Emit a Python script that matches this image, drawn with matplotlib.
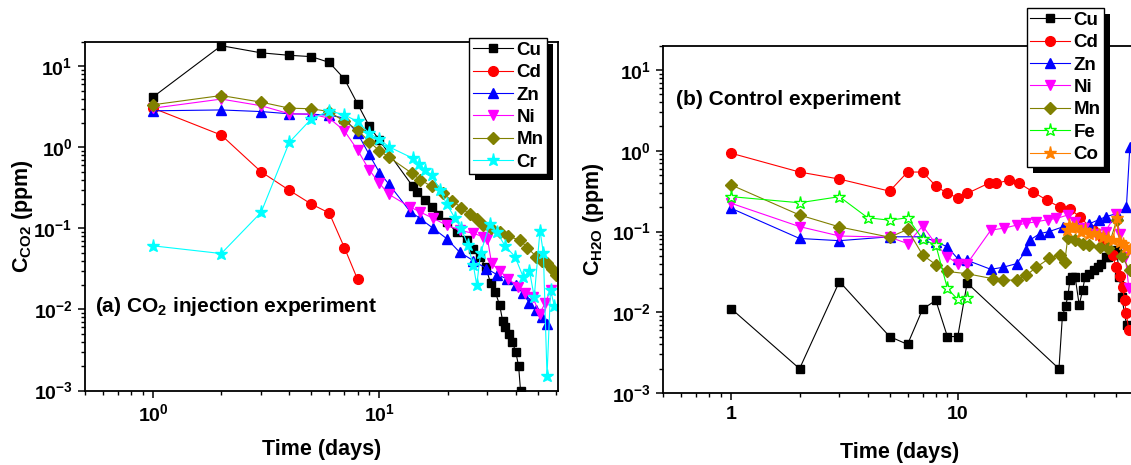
import numpy as np
import matplotlib
matplotlib.use('Agg')
import matplotlib.pyplot as plt
from matplotlib import ticker
from matplotlib.patches import Rectangle
from matplotlib.transforms import IdentityTransform

plt.rcParams['font.family'] = ['Liberation Sans', 'DejaVu Sans']
plt.rcParams['font.weight'] = 'bold'
plt.rcParams['axes.labelweight'] = 'bold'
plt.rcParams['mathtext.default'] = 'regular'

# ---- (a) CO2 injection experiment ----
a_cu_x = [1, 2, 3, 4, 5, 6, 7, 8, 9, 10, 14, 14.6, 15.9, 17.1, 18.2, 19.8, 21.9, 24.3, 26, 27.8,
          29.5, 31, 32.5, 34, 35, 36, 37.2, 38.6, 40, 41.2, 42]
a_cu_y = [4.2, 18, 14.7, 13.7, 13.2, 11.2, 7.0, 3.45, 1.85, 1.22, 0.334, 0.284, 0.224, 0.185, 0.146, 0.12,
          0.091, 0.072, 0.0565, 0.045, 0.033, 0.021, 0.0164, 0.0112, 0.0073, 0.006, 0.005, 0.004, 0.003,
          0.002, 0.001]
a_cd_x = [1, 2, 3, 4, 5, 6, 7, 8]
a_cd_y = [3.05, 1.42, 0.50, 0.295, 0.20, 0.155, 0.058, 0.0236]
a_zn_x = [1, 2, 3, 4, 5, 6, 7, 8, 9, 10, 11, 13.6, 15.1, 17.3, 19.8, 22.6, 26, 29.7, 33, 36.5, 40, 43,
          46, 49, 52, 55]
a_zn_y = [2.83, 2.9, 2.77, 2.6, 2.57, 2.5, 2.3, 1.5, 0.82, 0.49, 0.353, 0.164, 0.133, 0.1, 0.075, 0.051,
          0.04, 0.032, 0.027, 0.024, 0.02, 0.016, 0.012, 0.0098, 0.008, 0.0067]
a_ni_x = [1, 2, 3, 4, 5, 6, 7, 8, 9, 10, 11, 13.6, 15.1, 17.3, 19.8, 22.6, 26, 28.7, 30, 31.3, 34, 37,
          40.9, 44, 47.5, 51, 54, 57]
a_ni_y = [3.05, 3.95, 3.27, 2.6, 2.57, 2.3, 1.6, 0.93, 0.53, 0.36, 0.264, 0.185, 0.16, 0.133, 0.11, 0.095,
          0.087, 0.079, 0.075, 0.037, 0.03, 0.024, 0.019, 0.016, 0.0143, 0.0089, 0.012, 0.0173]
a_mn_x = [1, 2, 3, 4, 5, 6, 7, 8, 9, 10, 11, 13.9, 15.1, 17, 19, 21, 23, 25, 27, 28.7, 31, 34, 37, 41.7,
          45, 49.3, 52, 54.8, 58, 60.5]
a_mn_y = [3.36, 4.37, 3.62, 3.05, 3.0, 2.77, 2.09, 1.65, 1.18, 0.91, 0.76, 0.48, 0.4, 0.33, 0.27, 0.22,
          0.18, 0.15, 0.13, 0.11, 0.1, 0.09, 0.08, 0.072, 0.058, 0.045, 0.04, 0.037, 0.032, 0.0264]
a_cr_x = [1, 2, 3, 4, 5, 6, 7, 8, 9, 10, 11, 14.1, 15, 15.9, 17, 18.5, 19.8, 21.6, 23, 24.6, 26, 26.9,
          28, 30.8, 33, 36, 39.7, 43.2, 46, 48.3, 51.2, 53, 55, 57, 59.3]
a_cr_y = [0.061, 0.049, 0.158, 1.16, 2.25, 2.83, 2.52, 2.09, 1.5, 1.26, 1.02, 0.73, 0.625, 0.53, 0.457,
          0.3, 0.2, 0.133, 0.1, 0.062, 0.035, 0.02, 0.05, 0.115, 0.09, 0.06, 0.045, 0.025, 0.03, 0.0143,
          0.094, 0.05, 0.0015, 0.0173, 0.011]

# ---- (b) Control experiment ----
b_cu_x = [1, 2, 3, 5, 6, 7, 8, 9, 10, 11, 28, 29, 30, 30.7, 31.3, 32, 33, 34.4, 35.6, 36.5, 38.1, 40,
          41.5, 43, 45, 46.3, 48.8, 50.4, 51.8, 53, 55.7]
b_cu_y = [0.011, 0.002, 0.024, 0.005, 0.004, 0.011, 0.014, 0.005, 0.005, 0.023, 0.002, 0.009, 0.0121,
          0.0163, 0.025, 0.0275, 0.0275, 0.0123, 0.0187, 0.027, 0.03, 0.033, 0.0366, 0.04, 0.0487, 0.0487,
          0.053, 0.0587, 0.0275, 0.0156, 0.007]
b_cd_x = [1, 2, 3, 5, 6, 7, 8, 9, 10, 11, 13.8, 14.8, 16.9, 18.7, 21.5, 24.7, 28.3, 31.3, 34.6, 39.6,
          44, 48.3, 50, 52, 53.5, 54.6, 55.5, 57]
b_cd_y = [0.93, 0.545, 0.446, 0.316, 0.545, 0.545, 0.366, 0.296, 0.262, 0.296, 0.40, 0.395, 0.433, 0.395,
          0.31, 0.245, 0.2, 0.19, 0.152, 0.104, 0.08, 0.051, 0.0365, 0.028, 0.0207, 0.0142, 0.0097, 0.006]
b_zn_x = [1, 2, 3, 5, 7, 8, 9, 10, 11, 14, 15.8, 18.2, 20.1, 20.8, 23, 25.4, 29.1, 33.4, 38.2, 42, 45,
          50.4, 55.6, 57.6]
b_zn_y = [0.193, 0.082, 0.077, 0.086, 0.086, 0.075, 0.0645, 0.046, 0.044, 0.034, 0.036, 0.04, 0.0586,
          0.078, 0.094, 0.1, 0.114, 0.12, 0.125, 0.14, 0.152, 0.167, 0.2, 1.12]
b_ni_x = [1, 2, 3, 5, 6, 7, 8, 9, 10, 11, 14, 16, 18.2, 20, 22.2, 25, 27.3, 30.6, 33, 36, 40.9, 45, 50,
          52, 55, 57]
b_ni_y = [0.223, 0.115, 0.088, 0.085, 0.071, 0.117, 0.07, 0.0487, 0.04, 0.04, 0.104, 0.11, 0.12, 0.126,
          0.132, 0.14, 0.145, 0.16, 0.13, 0.11, 0.094, 0.1, 0.167, 0.094, 0.0487, 0.02]
b_mn_x = [1, 2, 3, 5, 6, 7, 8, 9, 11, 14.3, 15.8, 18.2, 20.1, 22.2, 25.4, 28.2, 29.7, 30.6, 33, 35.6,
          38, 42.3, 46, 50.4, 53, 57.6]
b_mn_y = [0.376, 0.16, 0.114, 0.085, 0.106, 0.051, 0.039, 0.032, 0.03, 0.026, 0.025, 0.025, 0.0287,
          0.036, 0.0465, 0.051, 0.042, 0.082, 0.078, 0.071, 0.068, 0.065, 0.062, 0.138, 0.05, 0.033]
b_fe_x = [1, 2, 3, 4, 5, 6, 7, 8, 9, 10, 11]
b_fe_y = [0.27, 0.227, 0.27, 0.148, 0.138, 0.148, 0.08, 0.068, 0.0197, 0.0144, 0.015]
b_co_x = [30.3, 31, 32, 33.4, 35, 36.5, 38.2, 40, 42, 43.9, 46, 48.5, 50.4, 52, 53.5, 55.5, 57.6]
b_co_y = [0.104, 0.12, 0.11, 0.115, 0.1, 0.105, 0.094, 0.095, 0.09, 0.0865, 0.082, 0.0787, 0.145, 0.075,
          0.071, 0.065, 0.059]

styles = {
    'Cu': dict(color='black', marker='s', ms=5.5),
    'Cd': dict(color='#ff0000', marker='o', ms=7),
    'Zn': dict(color='#0000ff', marker='^', ms=7.5),
    'Ni': dict(color='#ff00ff', marker='v', ms=7.5),
    'Mn': dict(color='#808000', marker='D', ms=6),
    'Cr': dict(color='#00ffff', marker='*', ms=9.5),
    'Fe': dict(color='#00ff00', marker='*', ms=9.5, mfc='white'),
    'Co': dict(color='#ff8000', marker='*', ms=9.5),
}

W, H = 1131, 465
fig = plt.figure(figsize=(W / 100, H / 100), dpi=100)
axA = fig.add_axes([85 / W, 1 - 390.5 / H, 473 / W, 348.5 / H])
axB = fig.add_axes([663.3 / W, 1 - 393 / H, 473 / W, 347.3 / H])


def draw(ax, name, x, y):
    st = dict(styles[name])
    ax.plot(x, y, lw=0.8, label=name, mec=st['color'], **st)


for name, x, y in [('Cu', a_cu_x, a_cu_y), ('Cd', a_cd_x, a_cd_y), ('Zn', a_zn_x, a_zn_y),
                   ('Ni', a_ni_x, a_ni_y), ('Mn', a_mn_x, a_mn_y), ('Cr', a_cr_x, a_cr_y)]:
    draw(axA, name, x, y)

for name, x, y in [('Cu', b_cu_x, b_cu_y), ('Cd', b_cd_x, b_cd_y), ('Zn', b_zn_x, b_zn_y),
                   ('Ni', b_ni_x, b_ni_y), ('Mn', b_mn_x, b_mn_y), ('Fe', b_fe_x, b_fe_y),
                   ('Co', b_co_x, b_co_y)]:
    draw(axB, name, x, y)

for ax in (axA, axB):
    ax.set_xscale('log')
    ax.set_yscale('log')
    ax.set_xlim(0.5, 61.5)
    ax.set_ylim(1e-3, 20)
    for s in ax.spines.values():
        s.set_linewidth(1.3)
    ax.tick_params(which='major', direction='out', length=5, width=1.1, labelsize=14, pad=4)
    ax.tick_params(which='minor', direction='out', length=3, width=1)
    ax.yaxis.set_major_locator(ticker.LogLocator(base=10, numticks=10))
    ax.yaxis.set_minor_locator(ticker.LogLocator(base=10, subs=np.arange(2, 10), numticks=10))
    ax.yaxis.set_minor_formatter(ticker.NullFormatter())
    ax.xaxis.set_minor_formatter(ticker.NullFormatter())
    ax.set_xlabel('Time (days)', fontsize=15.5)
    ax.xaxis.set_label_coords(0.5, -0.14)

axB.xaxis.set_major_formatter(ticker.FuncFormatter(lambda v, p: f'{v:g}'))

axA.set_ylabel('C$_{CO2}$ (ppm)', fontsize=15.5)
axA.yaxis.set_label_coords(-0.105, 0.5)
axB.set_ylabel('C$_{H2O}$ (ppm)', fontsize=15.5)
axB.yaxis.set_label_coords(-0.121, 0.5)

axA.text(0.022, 0.24, '(a) CO$_2$ injection experiment', transform=axA.transAxes,
         fontsize=15, va='center', ha='left')
axB.text(0.027, 0.844, '(b) Control experiment', transform=axB.transAxes,
         fontsize=15, va='center', ha='left')

leg_kw = dict(loc='upper right', borderaxespad=0, fontsize=13.5, handlelength=2.1,
              handletextpad=0.2, labelspacing=0.28, borderpad=0.2, fancybox=False,
              edgecolor='black', framealpha=1)
legA = axA.legend(bbox_to_anchor=(0.977, 1.0115), **leg_kw)
legB = axB.legend(bbox_to_anchor=(0.932, 1.1085), **leg_kw)

fig.canvas.draw()
for ax, leg in ((axA, legA), (axB, legB)):
    leg.get_frame().set_linewidth(1.0)
    bb = leg.get_frame().get_window_extent()
    shadow = Rectangle((bb.x0 + 6, bb.y0 - 6), bb.width, bb.height, transform=IdentityTransform(),
                       facecolor='black', edgecolor='none', zorder=4.9, clip_on=False)
    ax.add_artist(shadow)

fig.savefig('out.png', dpi=100)
